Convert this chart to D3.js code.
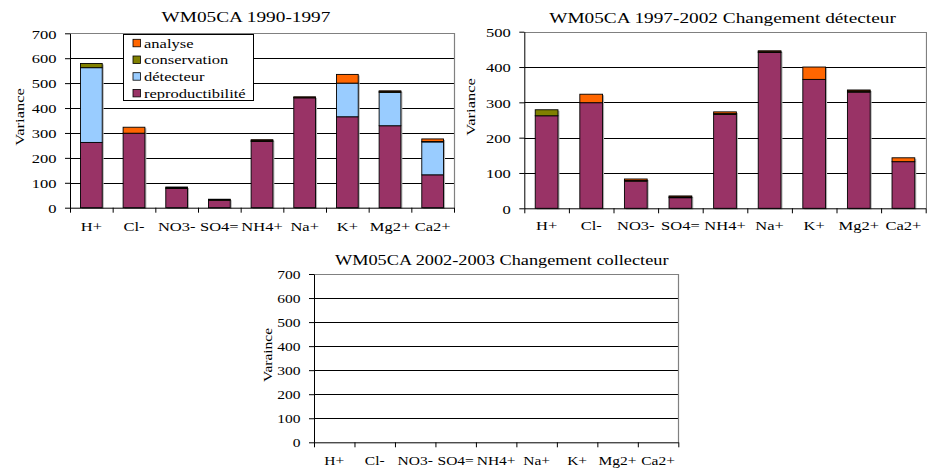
<!DOCTYPE html>
<html><head><meta charset="utf-8">
<script src="https://cdn.jsdelivr.net/npm/d3@7"></script>
<style>body{margin:0;background:#fff}svg{display:block}
svg text{font-family:"Liberation Serif","Times New Roman",Times,"Nimbus Roman","DejaVu Serif",serif !important;}
</style>
</head><body>
<svg id="c" width="927" height="470"></svg>
<script>
// ---------- data ----------
const categories = ["H+","Cl-","NO3-","SO4=","NH4+","Na+","K+","Mg2+","Ca2+"];
const seriesNames = ["reproductibilité","détecteur","conservation","analyse"];
const seriesColors = ["#993366","#99CCFF","#808000","#FF6600"];
const legendOrder = ["analyse","conservation","détecteur","reproductibilité"];

// WM05CA 1990-1997
const p1Reprod   = [262,299,77,30,266,441,365,329,132];
const p1Detect   = [300,0,0,0,0,0,135,134,132];
const p1Conserv  = [17,0,3,2,3,2,0,4,2];
const p1Analyse  = [0,24,3,2,4,2,35,2,10];
// WM05CA 1997-2002 Changement détecteur
const p2Reprod   = [262,299,77,30,266,441,365,329,132];
const p2Detect   = [0,0,0,0,0,0,0,0,0];
const p2Conserv  = [17,0,2,2,2,2,0,3,0];
const p2Analyse  = [0,24,4,3,5,3,35,3,11];
// WM05CA 2002-2003 Changement collecteur (no data)
const p3Reprod = [], p3Detect = [], p3Conserv = [], p3Analyse = [];

const yTicks1 = [0,100,200,300,400,500,600,700];
const yTicks2 = [0,100,200,300,400,500];
const yTicks3 = [0,100,200,300,400,500,600,700];

// ---------- layout ----------
const FONT = '"Liberation Serif","Times New Roman",Times,"DejaVu Serif",serif';
const panels = [
  {x0:70, x1:454, yTop:33.3, yBot:207.7, ticks:yTicks1, title:"WM05CA 1990-1997", tx:246, ty:22, tfs:19.3, ylab:"Variance", ylx:24, yly:117, xly:231, fs:16.5, sy:0.8,
   data:[p1Reprod,p1Detect,p1Conserv,p1Analyse], legend:true},
  {x0:524.3, x1:925.7, yTop:31.7, yBot:208.3, ticks:yTicks2, title:"WM05CA 1997-2002 Changement détecteur", tx:722.5, ty:23, tfs:19.3, ylab:"Variance", ylx:475, yly:107, xly:230, fs:16.5, sy:0.8,
   data:[p2Reprod,p2Detect,p2Conserv,p2Analyse], legend:false},
  {x0:314, x1:678.3, yTop:274, yBot:442.3, ticks:yTicks3, title:"WM05CA 2002-2003 Changement collecteur", tx:501.7, ty:265, tfs:18.3, ylab:"Varaince", ylx:272, yly:355, xly:465, fs:15.5, sy:0.82,
   data:[p3Reprod,p3Detect,p3Conserv,p3Analyse], legend:false}
];

const svg = d3.select("#c");
svg.append("rect").attr("width",927).attr("height",470).attr("fill","#fff");

function txt(g, x, y, s, fs, anchor, sy, rot){
  return g.append("text")
    .attr("transform", `translate(${x},${y})` + (rot?` rotate(${rot})`:"") + ` scale(1,${sy})`)
    .style("font-family", FONT).attr("font-size", fs).attr("text-anchor", anchor)
    .attr("fill","#000").text(s);
}

panels.forEach(p => {
  const g = svg.append("g");
  const maxV = d3.max(p.ticks);
  const y = d3.scaleLinear().domain([0, maxV]).range([p.yBot, p.yTop]);
  const pad = 0.49;
  const x = d3.scaleBand().domain(categories).range([p.x0, p.x1]).paddingInner(pad).paddingOuter(pad/2);
  const xb = d3.scaleLinear().domain([0, categories.length]).range([p.x0, p.x1]);

  // gridlines
  g.selectAll("line.grid").data(p.ticks.filter(t => t>0 && t<maxV)).join("line")
    .attr("x1", p.x0).attr("x2", p.x1).attr("y1", d=>Math.round(y(d))+0.5).attr("y2", d=>Math.round(y(d))+0.5)
    .attr("stroke","#000").attr("stroke-width",1);
  // plot border top/right
  g.append("path").attr("d", `M${p.x0},${Math.round(p.yTop)+0.5}H${Math.round(p.x1)+0.5}V${p.yBot}`)
    .attr("fill","none").attr("stroke","#808080").attr("stroke-width",1.2);

  // stacked bars
  const rows = categories.map((c,i) => {
    const o = {cat:c};
    seriesNames.forEach((s,k) => o[s] = p.data[k].length ? p.data[k][i] : 0);
    return o;
  });
  const hasData = p.data[0].length > 0;
  if (hasData) {
    const stack = d3.stack().keys(seriesNames)(rows);
    g.selectAll("rect.sh").data(rows).join("rect")
      .attr("x", d=>x(d.cat)+1.5).attr("width", x.bandwidth())
      .attr("y", d=>y(d3.sum(seriesNames, s=>d[s]))+1).attr("height", d=>p.yBot - y(d3.sum(seriesNames, s=>d[s])))
      .attr("fill","#b0b0b0");
    stack.forEach((layer,k) => {
      g.selectAll(null).data(layer.filter(d => d[1]-d[0] > 0)).join("rect")
        .attr("x", d=>x(d.data.cat)).attr("width", x.bandwidth())
        .attr("y", d=>y(d[1])).attr("height", d=>y(d[0])-y(d[1]))
        .attr("fill", seriesColors[k]).attr("stroke","#000").attr("stroke-width",0.9);
    });
  }

  // y axis
  const ya = g.append("g").attr("transform", `translate(${p.x0},0)`)
    .call(d3.axisLeft(y).tickValues(p.ticks).tickSize(5).tickSizeOuter(0));
  ya.attr("font-family", FONT);
  ya.select(".domain").attr("stroke","#000");
  ya.selectAll(".tick line").attr("stroke","#000");
  ya.selectAll(".tick text").attr("x", null).attr("dy", null)
    .attr("transform", `translate(-13.5,${0.36*p.fs*p.sy}) scale(1,${p.sy})`)
    .style("font-family", FONT).attr("font-size", p.fs).attr("fill","#000");

  // x axis: boundary ticks
  const xa = g.append("g").attr("transform", `translate(0,${p.yBot})`)
    .call(d3.axisBottom(xb).tickValues(d3.range(categories.length+1)).tickSize(5).tickSizeOuter(0).tickFormat(""));
  xa.select(".domain").attr("stroke","#000");
  xa.selectAll(".tick line").attr("stroke","#000");
  // x labels
  const xl = g.append("g").attr("transform", `translate(0,${p.yBot})`)
    .call(d3.axisBottom(x).tickSize(0).tickSizeOuter(0));
  xl.attr("font-family", FONT);
  xl.select(".domain").remove();
  xl.selectAll(".tick text").attr("y", null).attr("dy", null)
    .attr("transform", `translate(0,${p.xly - p.yBot}) scale(1,${p.sy})`)
    .style("font-family", FONT).attr("font-size", p.fs).attr("fill","#000");

  // title & y label
  txt(g, p.tx, p.ty, p.title, p.tfs, "middle", p.sy);
  txt(g, p.ylx, p.yly, p.ylab, p.fs, "middle", p.sy, -90);

  // legend
  if (p.legend) {
    const lg = g.append("g");
    lg.append("rect").attr("x",123.5).attr("y",34.5).attr("width",130).attr("height",66)
      .attr("fill","#fff").attr("stroke","#000").attr("stroke-width",1);
    legendOrder.forEach((name,i) => {
      const k = seriesNames.indexOf(name);
      const cy = 43 + i*16.7;
      lg.append("rect").attr("x",133).attr("y",cy-3.7).attr("width",7.5).attr("height",7.5)
        .attr("fill", seriesColors[k]).attr("stroke","#000").attr("stroke-width",0.8);
      txt(lg, 144, cy+4.5, name, 16.5, "start", 0.8);
    });
  }
});
</script>
</body></html>
